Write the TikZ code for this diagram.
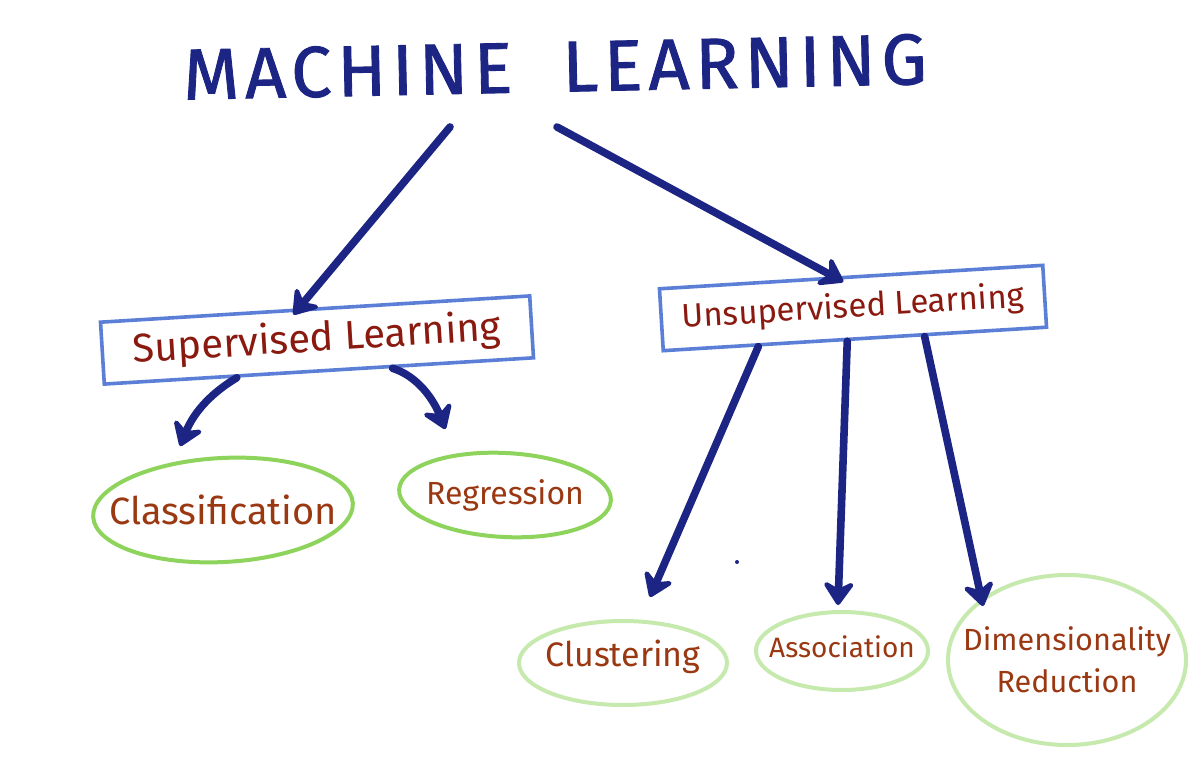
\documentclass[tikz,border=0pt]{standalone}
\usepackage{fontspec}
\setmainfont{Fira Sans}
\usetikzlibrary{arrows.meta,calc,shapes.geometric}
\definecolor{navy}{HTML}{1C2484}
\definecolor{boxblue}{HTML}{5B7FD6}
\definecolor{darkred}{HTML}{8A1A10}
\definecolor{rust}{HTML}{9A3812}
\definecolor{gA}{HTML}{8DD35C}
\definecolor{gB}{HTML}{C6E9AE}
\begin{document}
\begin{tikzpicture}[x=0.5pt,y=-0.5pt,
  arr/.style={draw=navy,line width=3.8pt,line cap=round,-{Stealth[length=14pt,width=19pt,inset=5pt,round]}},
  catbox/.style={draw=boxblue,line width=1.8pt,text=darkred,rectangle,minimum height=31pt,rotate=3.5},
  leaf/.style={ellipse,line width=2pt,inner sep=0pt},
  leaftext/.style={text=rust,align=center,font=\fontsize{#1}{21}\selectfont},
]
\useasboundingbox (0,0) rectangle (1200,771);
\fill[white] (0,0) rectangle (1200,771);

\node[text=navy,font=\fontsize{36}{40}\selectfont\addfontfeature{LetterSpace=8,FakeBold=1.2},rotate=1.2] (title) at (555,67) {MACHINE\hspace{25pt}LEARNING};

\node[catbox,minimum width=215pt,font=\fontsize{20}{22}\selectfont] (sup) at (317,340) {Supervised Learning};
\node[catbox,minimum width=192pt,font=\fontsize{16.5}{20}\selectfont] (uns) at (853,308) {Unsupervised Learning};

\node[leaf,draw=gA,minimum width=130pt,minimum height=52pt,rotate=3,
  label={[leaftext=19]center:Classification}] (cls) at (223,510) {};
\node[leaf,draw=gA,minimum width=106pt,minimum height=42pt,rotate=-3,
  label={[leaftext=16]center:Regression}] (reg) at (505,495) {};
\node[leaf,draw=gB,minimum width=104pt,minimum height=42pt,
  label={[leaftext=17,yshift=3pt]center:Clustering}] (clu) at (623,663) {};
\node[leaf,draw=gB,minimum width=86pt,minimum height=39pt,
  label={[leaftext=14,yshift=2pt]center:Association}] (ass) at (842,651) {};
\node[leaf,draw=gB,minimum width=119pt,minimum height=85pt,
  label={[leaftext=15.3]center:{Dimensionality\\Reduction}}] (dim) at (1067,660) {};

\coordinate (s1) at (450,127);
\coordinate (s2) at (557,127);

\draw[arr] (s1) -- ($(sup.north west)!0.45!(sup.north east)+(0,6)$);
\draw[arr] (s2) -- ($(uns.north west)!0.48!(uns.north east)+(0,6)$);

\draw[arr] ($(sup.south west)!0.31!(sup.south east)$) .. controls +(-30,18) and +(12,-30) .. ($(cls.north)+(-40,-10)$);
\draw[arr] ($(sup.south west)!0.67!(sup.south east)$) .. controls +(25,8) and +(-12,-30) .. ($(reg.north)+(-62,-22)$);

\draw[arr] ($(uns.south west)!0.25!(uns.south east)$) -- ($(clu.north)+(27,-22)$);
\draw[arr] ($(uns.south west)!0.48!(uns.south east)$) -- ($(ass.north)+(-4,-5)$);
\draw[arr] ($(uns.south west)!0.68!(uns.south east)$) -- ($(dim.north)+(-84,33)$);

\fill[navy] (737,562) circle (2);
\end{tikzpicture}
\end{document}
